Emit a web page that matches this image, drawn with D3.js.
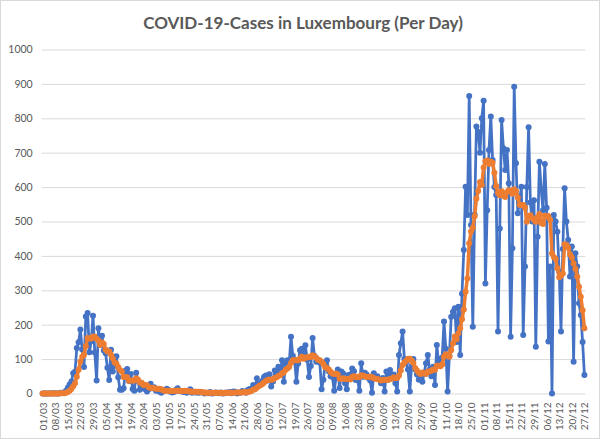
<!DOCTYPE html>
<html>
<head>
<meta charset="utf-8">
<script src="https://cdn.jsdelivr.net/npm/d3@7"></script>
<style>
  body { margin: 0; background: #fff; }
  text { font-family: Lato, "Open Sans", sans-serif; fill: #595959; }
</style>
</head>
<body>
<div id="chart"></div>
<script>
// Daily cases (blue), 01/03 - 27/12
const cases = [0,
  0,0,0,0,1,0,1,0,0,2,2,2,
  8,17,26,35,59,63,132,149,186,128,77,224,234,120,152,226,119,38,190,141,168,125,117,
  75,39,127,64,81,108,47,
  11,11,15,66,71,36,57,
  13,8,60,36,11,30,16,
  12,6,12,28,15,18,8,
  10,5,2,7,9,14,10,
  5,3,4,10,15,7,7,
  4,6,2,5,12,2,5,
  3,3,2,4,3,0,2,
  1,4,0,1,3,2,1,
  3,0,1,3,2,4,1,
  6,5,0,2,3,7,5,
  2,10,13,12,25,15,44,
  27,30,36,48,52,38,56,
  20,35,67,62,78,55,97,
  34,87,97,88,165,110,98,
  34,87,126,130,120,140,98,
  48,80,161,110,92,97,90,
  12,40,90,97,65,50,49,
  8,45,70,16,64,58,30,
  12,54,55,73,65,39,40,
  8,88,49,60,55,45,38,
  2,59,45,50,42,30,45,
  6,64,40,68,50,55,30,
  6,112,146,180,100,90,70,
  6,80,100,70,55,40,50,
  34,60,88,112,70,50,78,
  25,141,90,100,105,209,130,
  6,110,223,238,248,150,252,
  112,290,417,601,519,865,490,
  194,520,776,760,700,800,851,
  320,533,708,805,679,600,577,
  180,480,795,713,650,708,611,
  165,422,892,669,524,560,601,
  170,369,600,774,555,500,562,
  136,456,674,592,533,667,540,
  151,369,0,519,500,470,354,
  180,420,597,500,446,340,427,
  92,408,369,262,228,150,54];

// 7-day average (orange)
const average = [0,
  0,0,0,0,0.1,0.1,0.3,0.3,0.3,0.6,0.9,1,
  2,4,8,13,21,30,49,69,93,107,113,137,161,160,160,166,165,159,154,141,148,144,128,
  122,122,113,102,90,87,77,
  68,64,48,48,47,37,38,
  38,38,44,40,32,31,25,
  25,24,18,16,17,15,14,
  14,14,12,9,8,8,8,
  7,7,7,8,9,8,7,
  7,8,7,7,6,5,5,
  5,5,5,4,3,3,2,
  2,2,2,2,2,2,2,
  2,1,2,2,2,2,2,
  2,3,3,3,3,3,4,
  3,4,6,7,11,12,17,
  21,24,27,32,36,39,41,
  40,41,45,47,51,53,59,
  61,69,73,77,89,97,97,
  97,97,101,107,101,105,105,
  107,106,111,108,104,98,97,
  92,86,76,74,70,63,58,
  57,58,55,43,43,44,42,
  42,43,41,49,50,47,48,
  48,53,52,50,48,49,49,
  48,44,43,42,40,38,39,
  40,40,40,42,43,47,45,
  45,52,67,83,90,95,101,
  101,96,89,74,67,60,57,
  61,58,57,63,65,66,70,
  69,81,81,79,84,107,114,
  112,107,126,146,166,158,175,
  190,216,244,296,334,437,471,
  482,515,566,589,615,606,657,
  675,677,667,674,671,642,603,
  583,576,588,575,571,586,591,
  589,581,594,588,570,549,548,
  548,541,499,514,518,510,504,
  499,512,522,496,493,517,514,
  516,504,407,397,392,364,338,
  342,349,434,432,424,405,395,
  378,363,340,310,281,242,190];

// One label every 7 days
const tickLabels = ["01/03","08/03","15/03","22/03","29/03","05/04","12/04","19/04","26/04",
  "03/05","10/05","17/05","24/05","31/05","07/06","14/06","21/06","28/06","05/07","12/07",
  "19/07","26/07","02/08","09/08","16/08","23/08","30/08","06/09","13/09","20/09","27/09",
  "04/10","11/10","18/10","25/10","01/11","08/11","15/11","22/11","29/11","06/12","13/12",
  "20/12","27/12"];

const yTicks = [0,100,200,300,400,500,600,700,800,900,1000];

const width = 600;
const height = 439;
const plotLeft = 41.7, plotRight = 585.3;

const svg = d3.select("#chart").append("svg")
    .attr("width", width)
    .attr("height", height);

svg.append("rect")
    .attr("x", 0.5).attr("y", 0.5)
    .attr("width", width - 1).attr("height", height - 1)
    .attr("fill", "#fff")
    .attr("stroke", "#d9d9d9");

const x = d3.scaleLinear()
    .domain([0, cases.length - 1])
    .range([42.6, 584.4]);

const y = d3.scaleLinear()
    .domain([0, 1000])
    .range([393.5, 49.5]);

// title, sized to the width it has in the picture
const title = svg.append("text")
    .attr("x", 303)
    .attr("y", 29)
    .attr("text-anchor", "middle")
    .style("font-size", "16px")
    .style("font-weight", "bold")
    .text("COVID-19-Cases in Luxembourg (Per Day)");
const tw = title.node().getComputedTextLength();
title.style("font-size", (16 * 320 / tw) + "px");

// y axis with gridlines
const yAxis = svg.append("g")
    .attr("transform", `translate(${plotLeft},0)`)
    .call(d3.axisLeft(y)
        .tickValues(yTicks)
        .tickFormat(d3.format("d"))
        .tickSize(-(plotRight - plotLeft))
        .tickPadding(9));
yAxis.select(".domain").remove();
yAxis.selectAll("line").attr("stroke", "#d9d9d9");
yAxis.selectAll("text").style("font-size", "10.5px").attr("fill", "#595959");

// x axis labels, rotated
const xAxis = svg.append("g")
    .attr("transform", `translate(0,${y(0)})`)
    .call(d3.axisBottom(x)
        .tickValues(d3.range(0, cases.length, 7))
        .tickFormat((d, i) => tickLabels[i])
        .tickSize(0));
xAxis.select(".domain").remove();
xAxis.selectAll("text")
    .style("font-size", "10px")
    .attr("fill", "#595959")
    .attr("text-anchor", "end")
    .attr("transform", "rotate(-90)")
    .attr("x", -9)
    .attr("y", 0)
    .attr("dy", "0.35em");

const line = d3.line()
    .x((d, i) => x(i))
    .y(d => y(d));

function drawSeries(values, color, lineWidth, radius) {
  svg.append("path")
      .datum(values)
      .attr("fill", "none")
      .attr("stroke", color)
      .attr("stroke-width", lineWidth)
      .attr("stroke-linejoin", "round")
      .attr("d", line);
  svg.append("g")
      .selectAll("circle")
      .data(values)
      .enter().append("circle")
      .attr("cx", (d, i) => x(i))
      .attr("cy", d => y(d))
      .attr("r", radius)
      .attr("fill", color);
}

drawSeries(cases, "#4472C4", 2.75, 3);
drawSeries(average, "#ED7D31", 3.5, 3);
</script>
</body>
</html>
